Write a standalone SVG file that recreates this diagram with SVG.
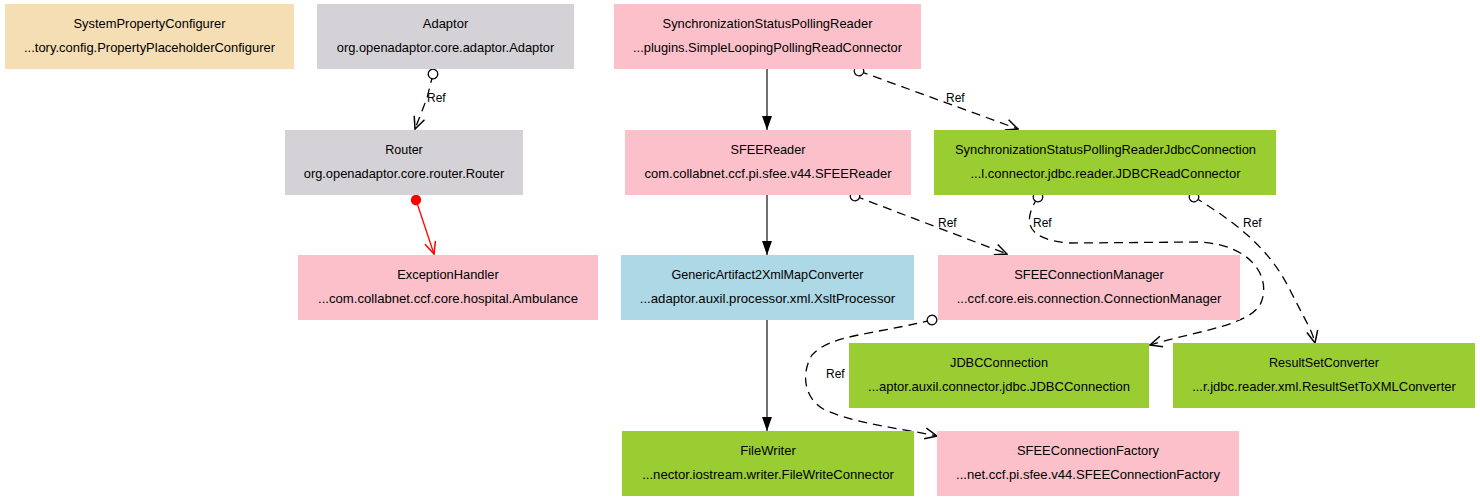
<svg xmlns="http://www.w3.org/2000/svg" width="1480" height="501" viewBox="0 0 1480 501">
<style>
.box{stroke:none}
.wheat{fill:#f5deb3}.gray{fill:#d4d2d6}.pink{fill:#fcc0cb}.green{fill:#9acd32}.blue{fill:#add8e6}
text{font-family:"Liberation Sans",Arial,sans-serif;font-size:13px;fill:#000;text-anchor:middle}
text.lbl{font-size:12px;text-anchor:start}
.solid{fill:none;stroke:#333;stroke-width:1.4}
.ref{fill:none;stroke:#000;stroke-width:1.3;stroke-dasharray:9,6}
.err{fill:none;stroke:#f00;stroke-width:1.3}
</style>
<defs>
<marker id="open" viewBox="0 0 14 14" refX="13" refY="7" markerWidth="14" markerHeight="14" markerUnits="userSpaceOnUse" orient="auto"><path d="M1,1.5 L13,7 L1,12.5" fill="none" stroke="#000" stroke-width="1.5"/></marker>
<marker id="openred" viewBox="0 0 14 14" refX="13" refY="7" markerWidth="14" markerHeight="14" markerUnits="userSpaceOnUse" orient="auto"><path d="M1,1.5 L13,7 L1,12.5" fill="none" stroke="#f00" stroke-width="1.5"/></marker>
<marker id="filled" viewBox="0 0 14 10" refX="14" refY="5" markerWidth="14" markerHeight="10" markerUnits="userSpaceOnUse" orient="auto"><path d="M0,0 L14,5 L0,10 Z" fill="#000"/></marker>
<marker id="ocirc" viewBox="0 0 12 12" refX="6" refY="6" markerWidth="12" markerHeight="12" markerUnits="userSpaceOnUse" orient="auto"><circle cx="6" cy="6" r="4.8" fill="#fff" stroke="#000" stroke-width="1.3"/></marker>
<marker id="rdot" viewBox="0 0 12 12" refX="6" refY="6" markerWidth="12" markerHeight="12" markerUnits="userSpaceOnUse" orient="auto"><circle cx="6" cy="6" r="5.2" fill="#f00"/></marker>
</defs>
<rect width="1480" height="501" fill="#fff"/>
<g id="connectors">
<path class="ref" d="M433,74 L427,98 L415,129" marker-start="url(#ocirc)" marker-end="url(#open)"/>
<text class="lbl" x="427" y="102">Ref</text>
<path class="err" d="M416,200 L434,254" marker-start="url(#rdot)" marker-end="url(#openred)"/>
<path class="solid" d="M767,69 L767,130" marker-end="url(#filled)"/>
<path class="ref" d="M859,71 L1018,129" marker-start="url(#ocirc)" marker-end="url(#open)"/>
<text class="lbl" x="946" y="102">Ref</text>
<path class="solid" d="M767,195 L767,255" marker-end="url(#filled)"/>
<path class="ref" d="M855,196 L1007,254" marker-start="url(#ocirc)" marker-end="url(#open)"/>
<text class="lbl" x="938" y="227">Ref</text>
<path class="solid" d="M767,320 L767,431" marker-end="url(#filled)"/>
<path class="ref" d="M1038,197 C1020,225 1030,240 1070,243 L1200,242 C1250,245 1270,275 1262,300 C1255,325 1200,330 1150,345" marker-start="url(#ocirc)" marker-end="url(#open)"/>
<text class="lbl" x="1033" y="227">Ref</text>
<path class="ref" d="M1194,197 C1240,225 1270,250 1290,290 C1305,320 1312,330 1315,343" marker-start="url(#ocirc)" marker-end="url(#open)"/>
<text class="lbl" x="1243" y="227">Ref</text>
<path class="ref" d="M932,320 C870,335 830,335 812,355 C800,375 805,400 825,410 C860,425 900,428 937,436" marker-start="url(#ocirc)" marker-end="url(#open)"/>
<text class="lbl" x="826" y="378">Ref</text>
</g>
<g id="SystemPropertyConfigurer"><rect class="box wheat" x="5" y="4" width="289" height="65"/><text x="149.5" y="28" textLength="152" lengthAdjust="spacingAndGlyphs">SystemPropertyConfigurer</text><text x="149.5" y="52" textLength="251" lengthAdjust="spacingAndGlyphs">...tory.config.PropertyPlaceholderConfigurer</text></g>
<g id="Adaptor"><rect class="box gray" x="317" y="4" width="257" height="65"/><text x="445.5" y="28" textLength="45.5" lengthAdjust="spacingAndGlyphs">Adaptor</text><text x="445.5" y="52" textLength="217.5" lengthAdjust="spacingAndGlyphs">org.openadaptor.core.adaptor.Adaptor</text></g>
<g id="SynchronizationStatusPollingReader"><rect class="box pink" x="614" y="4" width="307" height="65"/><text x="767.5" y="28" textLength="210" lengthAdjust="spacingAndGlyphs">SynchronizationStatusPollingReader</text><text x="767.5" y="52" textLength="269" lengthAdjust="spacingAndGlyphs">...plugins.SimpleLoopingPollingReadConnector</text></g>
<g id="Router"><rect class="box gray" x="285" y="130" width="238" height="65"/><text x="404" y="153.5" textLength="37.5" lengthAdjust="spacingAndGlyphs">Router</text><text x="404" y="177.5" textLength="200.5" lengthAdjust="spacingAndGlyphs">org.openadaptor.core.router.Router</text></g>
<g id="SFEEReader"><rect class="box pink" x="625" y="130" width="286" height="65"/><text x="768" y="153.5" textLength="75" lengthAdjust="spacingAndGlyphs">SFEEReader</text><text x="768" y="177.5" textLength="247" lengthAdjust="spacingAndGlyphs">com.collabnet.ccf.pi.sfee.v44.SFEEReader</text></g>
<g id="SynchronizationStatusPollingReaderJdbcConnection"><rect class="box green" x="934" y="130" width="342" height="65"/><text x="1105.5" y="153.5" textLength="301" lengthAdjust="spacingAndGlyphs">SynchronizationStatusPollingReaderJdbcConnection</text><text x="1105.5" y="177.5" textLength="270" lengthAdjust="spacingAndGlyphs">...l.connector.jdbc.reader.JDBCReadConnector</text></g>
<g id="ExceptionHandler"><rect class="box pink" x="298" y="255" width="300" height="65"/><text x="448" y="278.5" textLength="101.6" lengthAdjust="spacingAndGlyphs">ExceptionHandler</text><text x="448" y="302.5" textLength="260" lengthAdjust="spacingAndGlyphs">...com.collabnet.ccf.core.hospital.Ambulance</text></g>
<g id="GenericArtifact2XmlMapConverter"><rect class="box blue" x="621" y="255" width="293" height="65"/><text x="767.5" y="278.5" textLength="192" lengthAdjust="spacingAndGlyphs">GenericArtifact2XmlMapConverter</text><text x="767.5" y="302.5" textLength="255.5" lengthAdjust="spacingAndGlyphs">...adaptor.auxil.processor.xml.XsltProcessor</text></g>
<g id="SFEEConnectionManager"><rect class="box pink" x="938" y="255" width="302" height="65"/><text x="1089" y="278.5" textLength="149.6" lengthAdjust="spacingAndGlyphs">SFEEConnectionManager</text><text x="1089" y="302.5" textLength="264.5" lengthAdjust="spacingAndGlyphs">...ccf.core.eis.connection.ConnectionManager</text></g>
<g id="JDBCConnection"><rect class="box green" x="849" y="343" width="300" height="65"/><text x="999" y="366.5" textLength="98" lengthAdjust="spacingAndGlyphs">JDBCConnection</text><text x="999" y="390.5" textLength="262" lengthAdjust="spacingAndGlyphs">...aptor.auxil.connector.jdbc.JDBCConnection</text></g>
<g id="ResultSetConverter"><rect class="box green" x="1173" y="343" width="302" height="65"/><text x="1324" y="366.5" textLength="110" lengthAdjust="spacingAndGlyphs">ResultSetConverter</text><text x="1324" y="390.5" textLength="263.7" lengthAdjust="spacingAndGlyphs">...r.jdbc.reader.xml.ResultSetToXMLConverter</text></g>
<g id="FileWriter"><rect class="box green" x="622" y="431" width="292" height="65"/><text x="768" y="454.5" textLength="55.6" lengthAdjust="spacingAndGlyphs">FileWriter</text><text x="768" y="478.5" textLength="251.7" lengthAdjust="spacingAndGlyphs">...nector.iostream.writer.FileWriteConnector</text></g>
<g id="SFEEConnectionFactory"><rect class="box pink" x="937" y="431" width="302" height="65"/><text x="1088" y="454.5" textLength="142" lengthAdjust="spacingAndGlyphs">SFEEConnectionFactory</text><text x="1088" y="478.5" textLength="264" lengthAdjust="spacingAndGlyphs">...net.ccf.pi.sfee.v44.SFEEConnectionFactory</text></g>
</svg>
